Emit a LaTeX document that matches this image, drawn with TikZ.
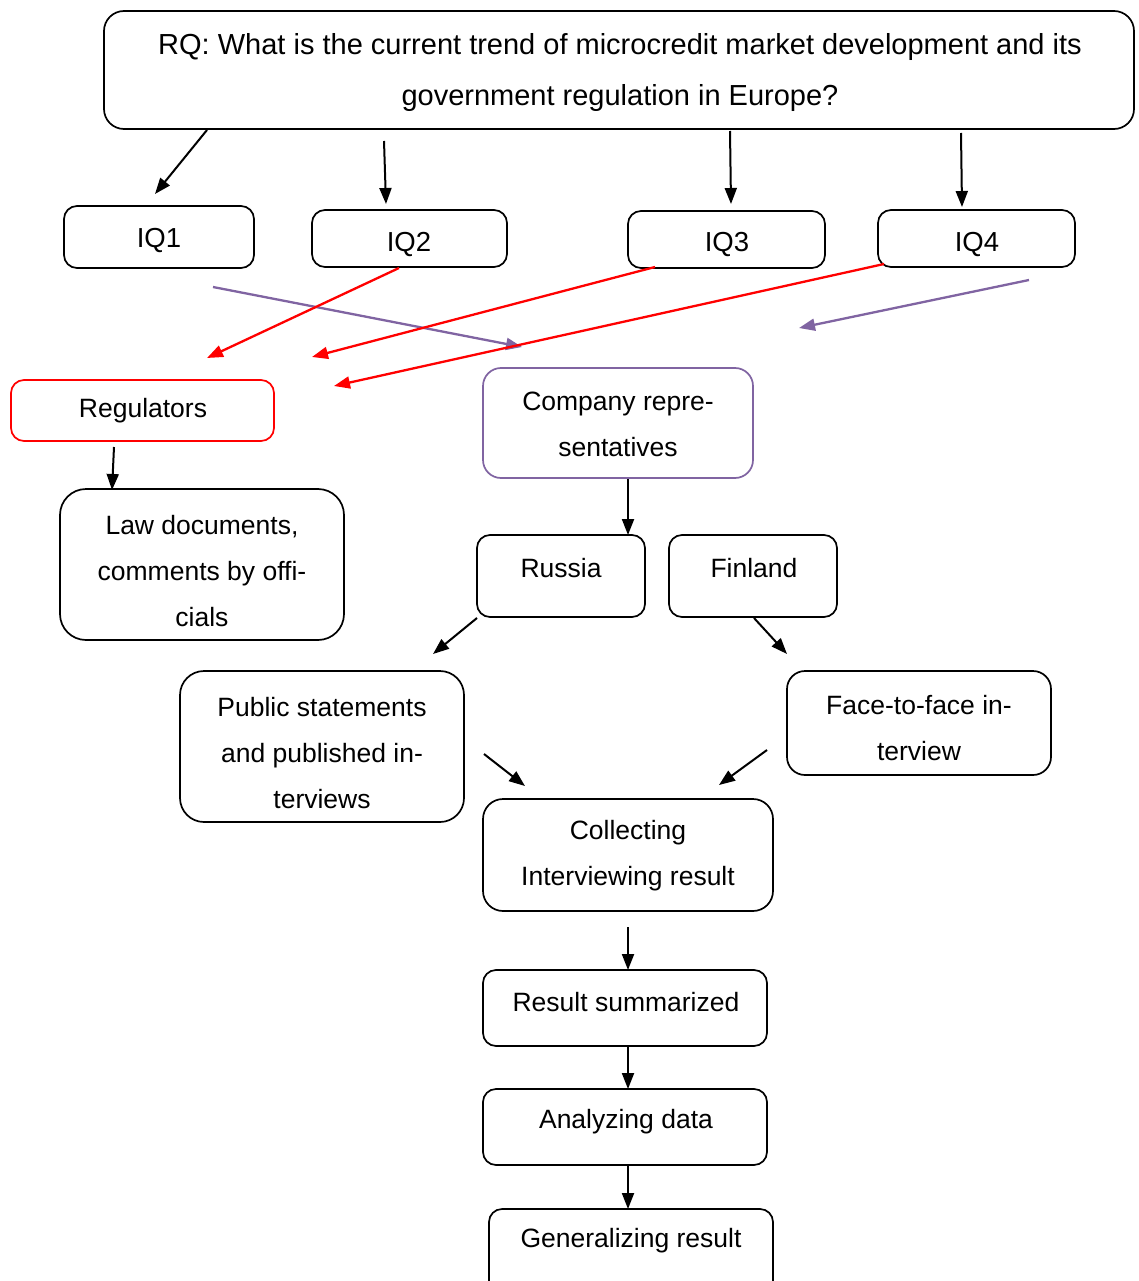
\documentclass[tikz,border=0pt]{standalone}
\usepackage{fontspec}
\setmainfont{Liberation Sans}
\usetikzlibrary{fit,arrows.meta}
\tikzset{
  box/.style={draw, line width=1.7pt, rounded corners=13pt, inner sep=0pt},
  redbox/.style={box, draw=red},
  purplebox/.style={box, draw=violetc},
  arr/.style={-{Triangle[length=16pt,width=12pt]}, line width=2pt},
  redarr/.style={arr, line width=2.3pt, draw=red, -{Triangle[length=16pt,width=12pt,fill=red]}},
  purarr/.style={arr, line width=2.3pt, draw=violetc, -{Triangle[length=16pt,width=12pt,fill=violetc]}},
  txt/.style={font=\fontsize{26.5}{46}\selectfont, align=center, inner sep=0pt, yshift=-3pt},
  rqtxt/.style={font=\fontsize{29}{51}\selectfont, align=center, inner sep=0pt, yshift=-3pt},
  iqtxt/.style={font=\fontsize{27.5}{33}\selectfont, inner sep=0pt, yshift=-3pt}
}
\definecolor{violetc}{RGB}{128,100,162}
\begin{document}
\begin{tikzpicture}[x=1pt,y=-1pt]
\clip (0,0) rectangle (1139,1281);
\fill[white] (0,0) rectangle (1139,1281);
% boxes
\node[box, rounded corners=20pt, fit={(104,11) (1134,129)}] (rq) {};
\node[box, fit={(64,206) (254,268)}] (iq1) {};
\node[box, fit={(312,210) (507,267)}] (iq2) {};
\node[box, fit={(628,211) (825,268)}] (iq3) {};
\node[box, fit={(878,210) (1075,267)}] (iq4) {};
\node[redbox, fit={(11,380) (274,441)}] (reg) {};
\node[purplebox, rounded corners=18pt, fit={(483,368) (753,478)}] (comp) {};
\node[box, rounded corners=26pt, fit={(60,489) (344,640)}] (law) {};
\node[box, fit={(477,535) (645,617)}] (rus) {};
\node[box, fit={(669,535) (837,617)}] (fin) {};
\node[box, rounded corners=24pt, fit={(180,671) (464,822)}] (pub) {};
\node[box, rounded corners=18pt, fit={(787,671) (1051,775)}] (face) {};
\node[box, rounded corners=20pt, fit={(483,799) (773,911)}] (coll) {};
\node[box, fit={(483,970) (767,1046)}] (summ) {};
\node[box, fit={(483,1089) (767,1165)}] (anal) {};
\node[box, fit={(489,1209) (773,1300)}] (gen) {};
% texts
\node[rqtxt] (rqt) at (620,69.5) {RQ: What is the current trend of microcredit market development and its\\government regulation in Europe?};
\node[iqtxt] (iq1t) at (159,237) {IQ1};
\node[iqtxt] (iq2t) at (409,241) {IQ2};
\node[iqtxt] (iq3t) at (727,241) {IQ3};
\node[iqtxt] (iq4t) at (977,241) {IQ4};
\node[txt] (regt) at (143,408) {Regulators};
\node[txt] (compt) at (618,421.5) {Company repre-\\sentatives};
\node[txt] (lawt) at (202,568) {Law documents,\\comments by offi-\\cials};
\node[txt] (rust) at (561,565) {Russia};
\node[txt] (fint) at (754,565) {Finland};
\node[txt] (pubt) at (322,750) {Public statements\\and published in-\\terviews};
\node[txt] (facet) at (919,725) {Face-to-face in-\\terview};
\node[txt] (collt) at (628,853) {Collecting\\Interviewing result};
\node[txt] (summt) at (626,999) {Result summarized};
\node[txt] (analt) at (626,1119) {Analyzing data};
\node[txt] (gent) at (631,1238) {Generalizing result};
% free-end coordinates
\coordinate (a1s) at (207,130); \coordinate (a1e) at (155,194);
\coordinate (a2s) at (384,141); \coordinate (a2e) at (386,204);
\coordinate (a3s) at (730,131); \coordinate (a3e) at (731,204);
\coordinate (a4s) at (961,133); \coordinate (a4e) at (962,207);
\coordinate (p1s) at (213,287); \coordinate (p1e) at (522,347);
\coordinate (p2s) at (1029,280); \coordinate (p2e) at (799,328);
\coordinate (r1s) at (399,268); \coordinate (r1e) at (207,358);
\coordinate (r2s) at (655,267); \coordinate (r2e) at (312,357);
\coordinate (r3s) at (884,264); \coordinate (r3e) at (334,386);
\coordinate (b1s) at (114,447); \coordinate (b1e) at (112,490);
\coordinate (b2s) at (628,479); \coordinate (b2e) at (628,535);
\coordinate (b3s) at (477,618); \coordinate (b3e) at (433,654);
\coordinate (b4s) at (754,618); \coordinate (b4e) at (787,654);
\coordinate (b5s) at (484,754); \coordinate (b5e) at (525,786);
\coordinate (b6s) at (767,750); \coordinate (b6e) at (719,785);
\coordinate (b7s) at (628,927); \coordinate (b7e) at (628,970);
\coordinate (b8s) at (628,1047); \coordinate (b8e) at (628,1089);
\coordinate (b9s) at (628,1166); \coordinate (b9e) at (628,1209);
% connectors
\draw[arr] (a1s) -- (a1e);
\draw[arr] (a2s) -- (a2e);
\draw[arr] (a3s) -- (a3e);
\draw[arr] (a4s) -- (a4e);
\draw[purarr] (p1s) -- (p1e);
\draw[purarr] (p2s) -- (p2e);
\draw[redarr] (r1s) -- (r1e);
\draw[redarr] (r2s) -- (r2e);
\draw[redarr] (r3s) -- (r3e);
\draw[arr] (b1s) -- (b1e);
\draw[arr] (b2s) -- (b2e);
\draw[arr] (b3s) -- (b3e);
\draw[arr] (b4s) -- (b4e);
\draw[arr] (b5s) -- (b5e);
\draw[arr] (b6s) -- (b6e);
\draw[arr] (b7s) -- (b7e);
\draw[arr] (b8s) -- (b8e);
\draw[arr] (b9s) -- (b9e);
\end{tikzpicture}
\end{document}
